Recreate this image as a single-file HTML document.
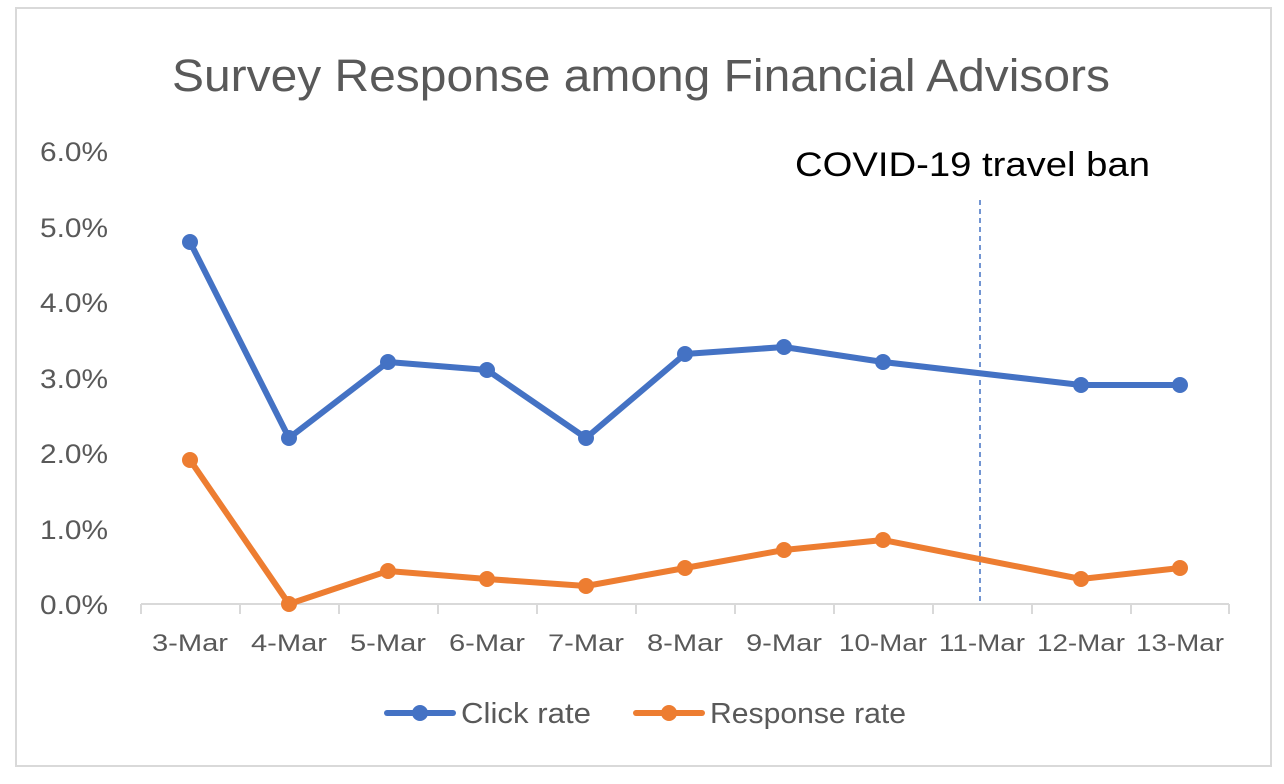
<!DOCTYPE html>
<html><head><meta charset="utf-8"><style>
body{margin:0;background:#fff;}
svg{display:block;font-family:"Liberation Sans",sans-serif;}
</style></head><body>
<svg width="1284" height="784" viewBox="0 0 1284 784">
<rect x="16" y="8" width="1255" height="758" fill="#fff" stroke="#d9d9d9" stroke-width="2"/>
<text x="172" y="91" textLength="938" lengthAdjust="spacingAndGlyphs" font-size="45" fill="#595959">Survey Response among Financial Advisors</text>
<g font-size="27" fill="#595959">
<text x="40" y="614" textLength="68" lengthAdjust="spacingAndGlyphs">0.0%</text><text x="40" y="539" textLength="68" lengthAdjust="spacingAndGlyphs">1.0%</text><text x="40" y="463" textLength="68" lengthAdjust="spacingAndGlyphs">2.0%</text>
<text x="40" y="388" textLength="68" lengthAdjust="spacingAndGlyphs">3.0%</text><text x="40" y="312" textLength="68" lengthAdjust="spacingAndGlyphs">4.0%</text><text x="40" y="237" textLength="68" lengthAdjust="spacingAndGlyphs">5.0%</text><text x="40" y="161" textLength="68" lengthAdjust="spacingAndGlyphs">6.0%</text>
</g>
<g stroke="#d9d9d9" stroke-width="2">
<line x1="141" y1="604" x2="1229" y2="604"/>
<line x1="141" y1="604" x2="141" y2="614"/><line x1="240" y1="604" x2="240" y2="614"/><line x1="339" y1="604" x2="339" y2="614"/><line x1="438" y1="604" x2="438" y2="614"/><line x1="537" y1="604" x2="537" y2="614"/><line x1="636" y1="604" x2="636" y2="614"/><line x1="735" y1="604" x2="735" y2="614"/><line x1="834" y1="604" x2="834" y2="614"/><line x1="933" y1="604" x2="933" y2="614"/><line x1="1032" y1="604" x2="1032" y2="614"/><line x1="1131" y1="604" x2="1131" y2="614"/><line x1="1229" y1="604" x2="1229" y2="614"/>
</g>
<g font-size="24" fill="#595959" text-anchor="middle">
<text x="190" y="651" textLength="76" lengthAdjust="spacingAndGlyphs">3-Mar</text><text x="289" y="651" textLength="76" lengthAdjust="spacingAndGlyphs">4-Mar</text><text x="388" y="651" textLength="76" lengthAdjust="spacingAndGlyphs">5-Mar</text><text x="487" y="651" textLength="76" lengthAdjust="spacingAndGlyphs">6-Mar</text><text x="586" y="651" textLength="76" lengthAdjust="spacingAndGlyphs">7-Mar</text><text x="685" y="651" textLength="76" lengthAdjust="spacingAndGlyphs">8-Mar</text><text x="784" y="651" textLength="76" lengthAdjust="spacingAndGlyphs">9-Mar</text><text x="883" y="651" textLength="88" lengthAdjust="spacingAndGlyphs">10-Mar</text><text x="982" y="651" textLength="86" lengthAdjust="spacingAndGlyphs">11-Mar</text><text x="1081" y="651" textLength="88" lengthAdjust="spacingAndGlyphs">12-Mar</text><text x="1180" y="651" textLength="88" lengthAdjust="spacingAndGlyphs">13-Mar</text>
</g>
<line x1="980" y1="200" x2="980" y2="604" stroke="#4472c4" stroke-width="1.5" stroke-dasharray="5,4"/>
<text x="795" y="176" textLength="355" lengthAdjust="spacingAndGlyphs" font-size="34" fill="#000">COVID-19 travel ban</text>
<g fill="none" stroke-width="6" stroke-linejoin="round" stroke-linecap="round">
<polyline stroke="#4472c4" points="190,242 289,438 388,362 487,370 586,438 685,354 784,347 883,362 1081,385 1180,385"/>
<polyline stroke="#ed7d31" points="190,460 289,604 388,571 487,579 586,586 685,568 784,550 883,540 1081,579 1180,568"/>
</g>
<g fill="#4472c4">
<circle cx="190" cy="242" r="8"/><circle cx="289" cy="438" r="8"/><circle cx="388" cy="362" r="8"/><circle cx="487" cy="370" r="8"/><circle cx="586" cy="438" r="8"/><circle cx="685" cy="354" r="8"/><circle cx="784" cy="347" r="8"/><circle cx="883" cy="362" r="8"/><circle cx="1081" cy="385" r="8"/><circle cx="1180" cy="385" r="8"/>
</g>
<g fill="#ed7d31">
<circle cx="190" cy="460" r="8"/><circle cx="289" cy="604" r="8"/><circle cx="388" cy="571" r="8"/><circle cx="487" cy="579" r="8"/><circle cx="586" cy="586" r="8"/><circle cx="685" cy="568" r="8"/><circle cx="784" cy="550" r="8"/><circle cx="883" cy="540" r="8"/><circle cx="1081" cy="579" r="8"/><circle cx="1180" cy="568" r="8"/>
</g>
<line x1="387" y1="713" x2="453" y2="713" stroke="#4472c4" stroke-width="6" stroke-linecap="round"/>
<circle cx="420" cy="713" r="8" fill="#4472c4"/>
<text x="461" y="723" font-size="29" textLength="130" lengthAdjust="spacingAndGlyphs" fill="#595959">Click rate</text>
<line x1="636" y1="713" x2="702" y2="713" stroke="#ed7d31" stroke-width="6" stroke-linecap="round"/>
<circle cx="669" cy="713" r="8" fill="#ed7d31"/>
<text x="710" y="723" font-size="29" textLength="196" lengthAdjust="spacingAndGlyphs" fill="#595959">Response rate</text>
</svg>
</body></html>
